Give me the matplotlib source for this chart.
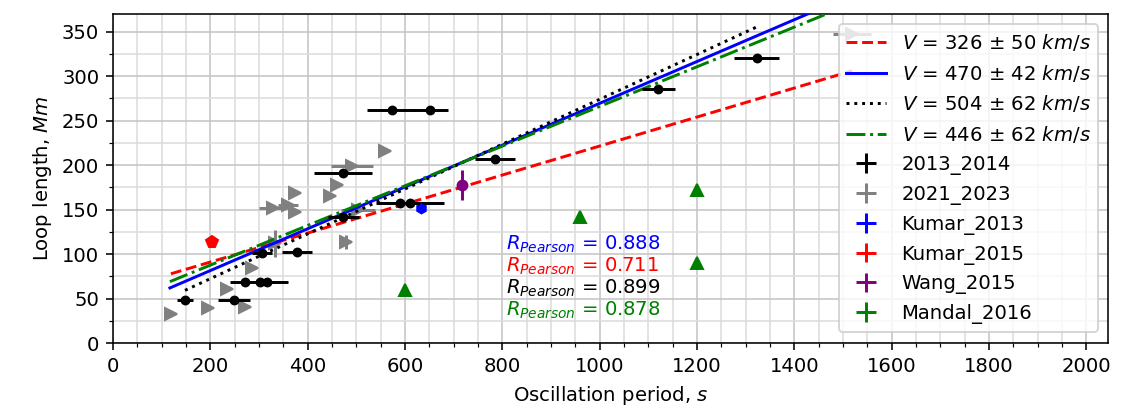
import numpy as np
from matplotlib import pyplot as plt
from matplotlib.ticker import MultipleLocator

# %%
# Data

# 2013_2014 (black)
p_1314 = [148, 249, 271, 302, 317, 306, 378, 473, 473, 589, 610, 573, 652, 785, 1121, 1323]
l_1314 = [48, 48.5, 69, 69, 69, 101, 102, 142, 191, 157, 157, 262, 262, 207, 285.5, 320]
perr_1314 = [17, 33, 31, 30, 43, 20, 31, 32, 60, 45, 70, 50, 36, 41, 33, 46]

# 2021_2023 (gray)
p_2123 = [120, 196, 271, 234, 285, 333, 479, 329, 360, 374, 374, 447, 461, 491, 559, 504, 1519]
l_2123 = [33, 40, 41, 61, 84, 112, 114, 152, 155, 147, 169, 165, 178, 199, 216, 150, 348]
perr_2123 = [0, 0, 0, 0, 0, 4, 5, 28, 20, 0, 0, 0, 0, 43, 0, 35, 39]
lerr_2123 = [0, 0, 0, 0, 0, 15, 8, 0, 0, 0, 0, 0, 0, 0, 0, 0, 0]

# other studies
p_kumar13, l_kumar13, lerr_kumar13 = [634], [152], [5]
p_kumar15, l_kumar15 = [203], [114]
p_wang15, l_wang15, lerr_wang15 = [718], [178], [17]
p_mandal16 = [600, 960, 1200, 1200]
l_mandal16 = [60, 142, 172, 90]

# linear fits: velocity (km/s), offset (Mm), fitted period range (s)
fit_v = [326, 470, 504, 446]
fit_dv = [50, 42, 62, 62]
fit_b = [58.5, 34.5, 22, 43]
fit_range = [(119, 1519), (117, 1519), (148, 1323), (117, 1519)]
fit_col = ['red', 'blue', 'black', 'green']
fit_ls = ['--', '-', ':', '-.']

r_pearson = [0.888, 0.711, 0.899, 0.878]
r_col = ['blue', 'red', 'black', 'green']

# %%
fig = plt.figure(figsize=(8, 2.874), dpi=141.625)
ax = fig.add_axes([0.0997, 0.157, 0.8783, 0.8086])

for v, dv, b, (p0, p1), c, ls in zip(fit_v, fit_dv, fit_b, fit_range, fit_col, fit_ls):
    pp = np.array([p0, p1])
    ax.plot(pp, v / 2000 * pp + b, color=c, ls=ls, lw=1.5,
            label=rf'$V$ = {v} $\pm$ {dv} $km/s$', zorder=3)

# markers
ax.plot(p_2123, l_2123, '>', color='gray', ms=6, zorder=2)
ax.plot(p_1314, l_1314, 'o', color='black', ms=4, zorder=4)
ax.plot(p_kumar13, l_kumar13, 'h', color='blue', ms=5, zorder=4)
ax.plot(p_kumar15, l_kumar15, 'p', color='red', ms=6, zorder=4)
ax.plot(p_wang15, l_wang15, 'o', color='purple', ms=5, zorder=4)
ax.plot(p_mandal16, l_mandal16, '^', color='green', ms=6, zorder=4)

# error bars (these carry the legend entries)
ax.errorbar(p_1314, l_1314, xerr=perr_1314, yerr=0, fmt='none', ecolor='black',
            elinewidth=1.5, label='2013_2014', zorder=4)
ax.errorbar(p_2123, l_2123, xerr=perr_2123, yerr=lerr_2123, fmt='none', ecolor='gray',
            elinewidth=1.5, label='2021_2023', zorder=2)
ax.errorbar(p_kumar13, l_kumar13, xerr=0, yerr=lerr_kumar13, fmt='none', ecolor='blue',
            elinewidth=1.5, label='Kumar_2013', zorder=4)
ax.errorbar(p_kumar15, l_kumar15, xerr=0, yerr=0, fmt='none', ecolor='red',
            elinewidth=1.5, label='Kumar_2015', zorder=4)
ax.errorbar(p_wang15, l_wang15, xerr=0, yerr=lerr_wang15, fmt='none', ecolor='purple',
            elinewidth=1.5, label='Wang_2015', zorder=4)
ax.errorbar(p_mandal16, l_mandal16, xerr=0, yerr=0, fmt='none', ecolor='green',
            elinewidth=1.5, label='Mandal_2016', zorder=4)

for i, (r, c) in enumerate(zip(r_pearson, r_col)):
    ax.text(808, 111 - 24.6 * i, rf'$R_{{Pearson}}$ = {r}', color=c,
            fontsize=10, ha='left', va='center')

ax.set_xlim(0, 2045)
ax.set_ylim(0, 370)
ax.xaxis.set_major_locator(MultipleLocator(200))
ax.xaxis.set_minor_locator(MultipleLocator(50))
ax.yaxis.set_major_locator(MultipleLocator(50))
ax.yaxis.set_minor_locator(MultipleLocator(25))
ax.grid(which='major', color='#c4c4c4', lw=0.8)
ax.grid(which='minor', color='#dcdcdc', lw=0.8)
ax.set_axisbelow(True)

ax.set_xlabel('Oscillation period, $s$')
ax.set_ylabel('Loop length, $Mm$')
ax.legend(loc='upper right')

fig.savefig('out.png', dpi=141.625)
